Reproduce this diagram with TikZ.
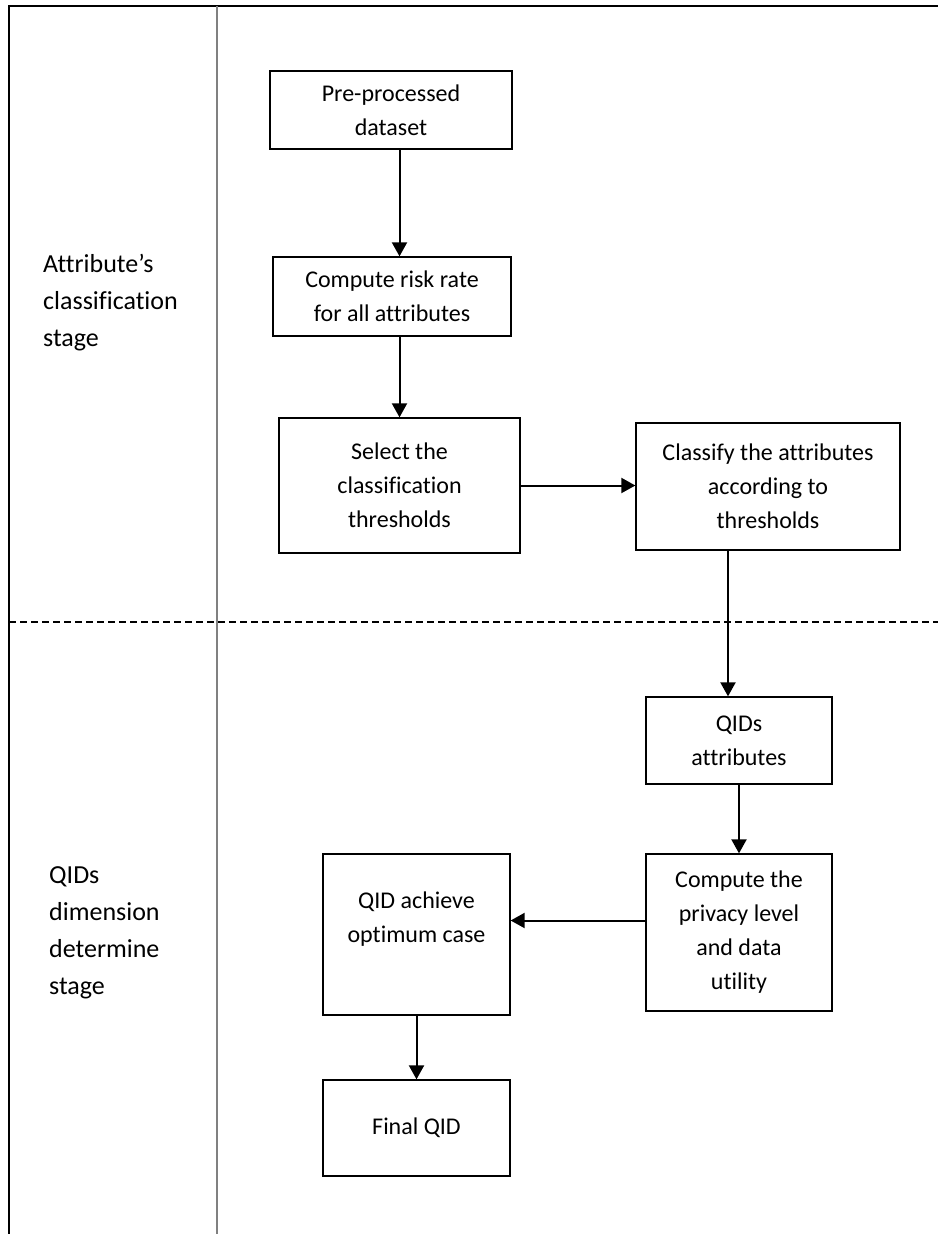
\documentclass[tikz,border=0pt]{standalone}
\usepackage{fontspec}
\setmainfont{Carlito}[Ligatures=NoCommon]
\usetikzlibrary{arrows.meta}

\begin{document}
\begin{tikzpicture}[x=1pt,y=-1pt,
    flowbox/.style={draw,line width=1.3pt,align=center,inner sep=0pt,font=\fontsize{24}{34}\selectfont},
    stagetext/.style={anchor=west,align=left,inner sep=0pt,font=\fontsize{26}{37}\selectfont},
    flowarrow/.style={line width=2pt,-{Triangle[length=14pt,width=15pt]}}]
  \useasboundingbox (0,0) rectangle (938,1234);
  % frame and stage separators
  \draw[line width=2.4pt] (9,1234) -- (9,6) -- (938,6);
  \draw[gray,line width=1.4pt] (217,6) -- (217,1234);
  \draw[line width=1.4pt,dash pattern=on 7pt off 4pt] (9,622) -- (938,622);
  % stage names
  \node[stagetext] (stageone) at (43,303) {Attribute’s\\classification\\stage};
  \node[stagetext] (stagetwo) at (49,933) {QIDs\\dimension\\determine\\stage};
  % first stage
  \node[flowbox,minimum width=242pt,minimum height=78pt] (pre) at (391,110) {Pre-processed\\dataset};
  \node[flowbox,minimum width=238pt,minimum height=79pt] (risk) at (392,296.5) {Compute risk rate\\for all attributes};
  \node[flowbox,minimum width=241pt,minimum height=135pt] (sel) at (399.5,485.5) {Select the\\classification\\thresholds};
  \node[flowbox,minimum width=264pt,minimum height=127pt] (cls) at (768,486.5) {Classify the attributes\\according to\\thresholds};
  % second stage
  \node[flowbox,minimum width=186pt,minimum height=87pt] (qids) at (739,740.5) {QIDs\\attributes};
  \node[flowbox,minimum width=186pt,minimum height=157pt] (priv) at (739,932.5) {Compute the\\privacy level\\and data\\utility};
  \node[flowbox,minimum width=187pt,minimum height=161pt] (opt) at (416.5,934.5) {QID achieve\\optimum case\\\mbox{}};
  \node[flowbox,minimum width=187pt,minimum height=96pt] (fin) at (416.5,1128) {Final QID};
  % connectors
  \draw[flowarrow] (sel.north |- pre.south) -- (sel.north |- risk.north);
  \draw[flowarrow] (sel.north |- risk.south) -- (sel.north);
  \draw[flowarrow] (sel.east) -- (sel.east -| cls.west);
  \draw[flowarrow] ([xshift=-11pt]qids.north |- cls.south) -- ([xshift=-11pt]qids.north);
  \draw[flowarrow] (qids.south) -- (priv.north);
  \draw[flowarrow] ([yshift=12pt]priv.west) -- ([yshift=12pt]priv.west -| opt.east);
  \draw[flowarrow] (opt.south) -- (opt.south |- fin.north);
\end{tikzpicture}
\end{document}
